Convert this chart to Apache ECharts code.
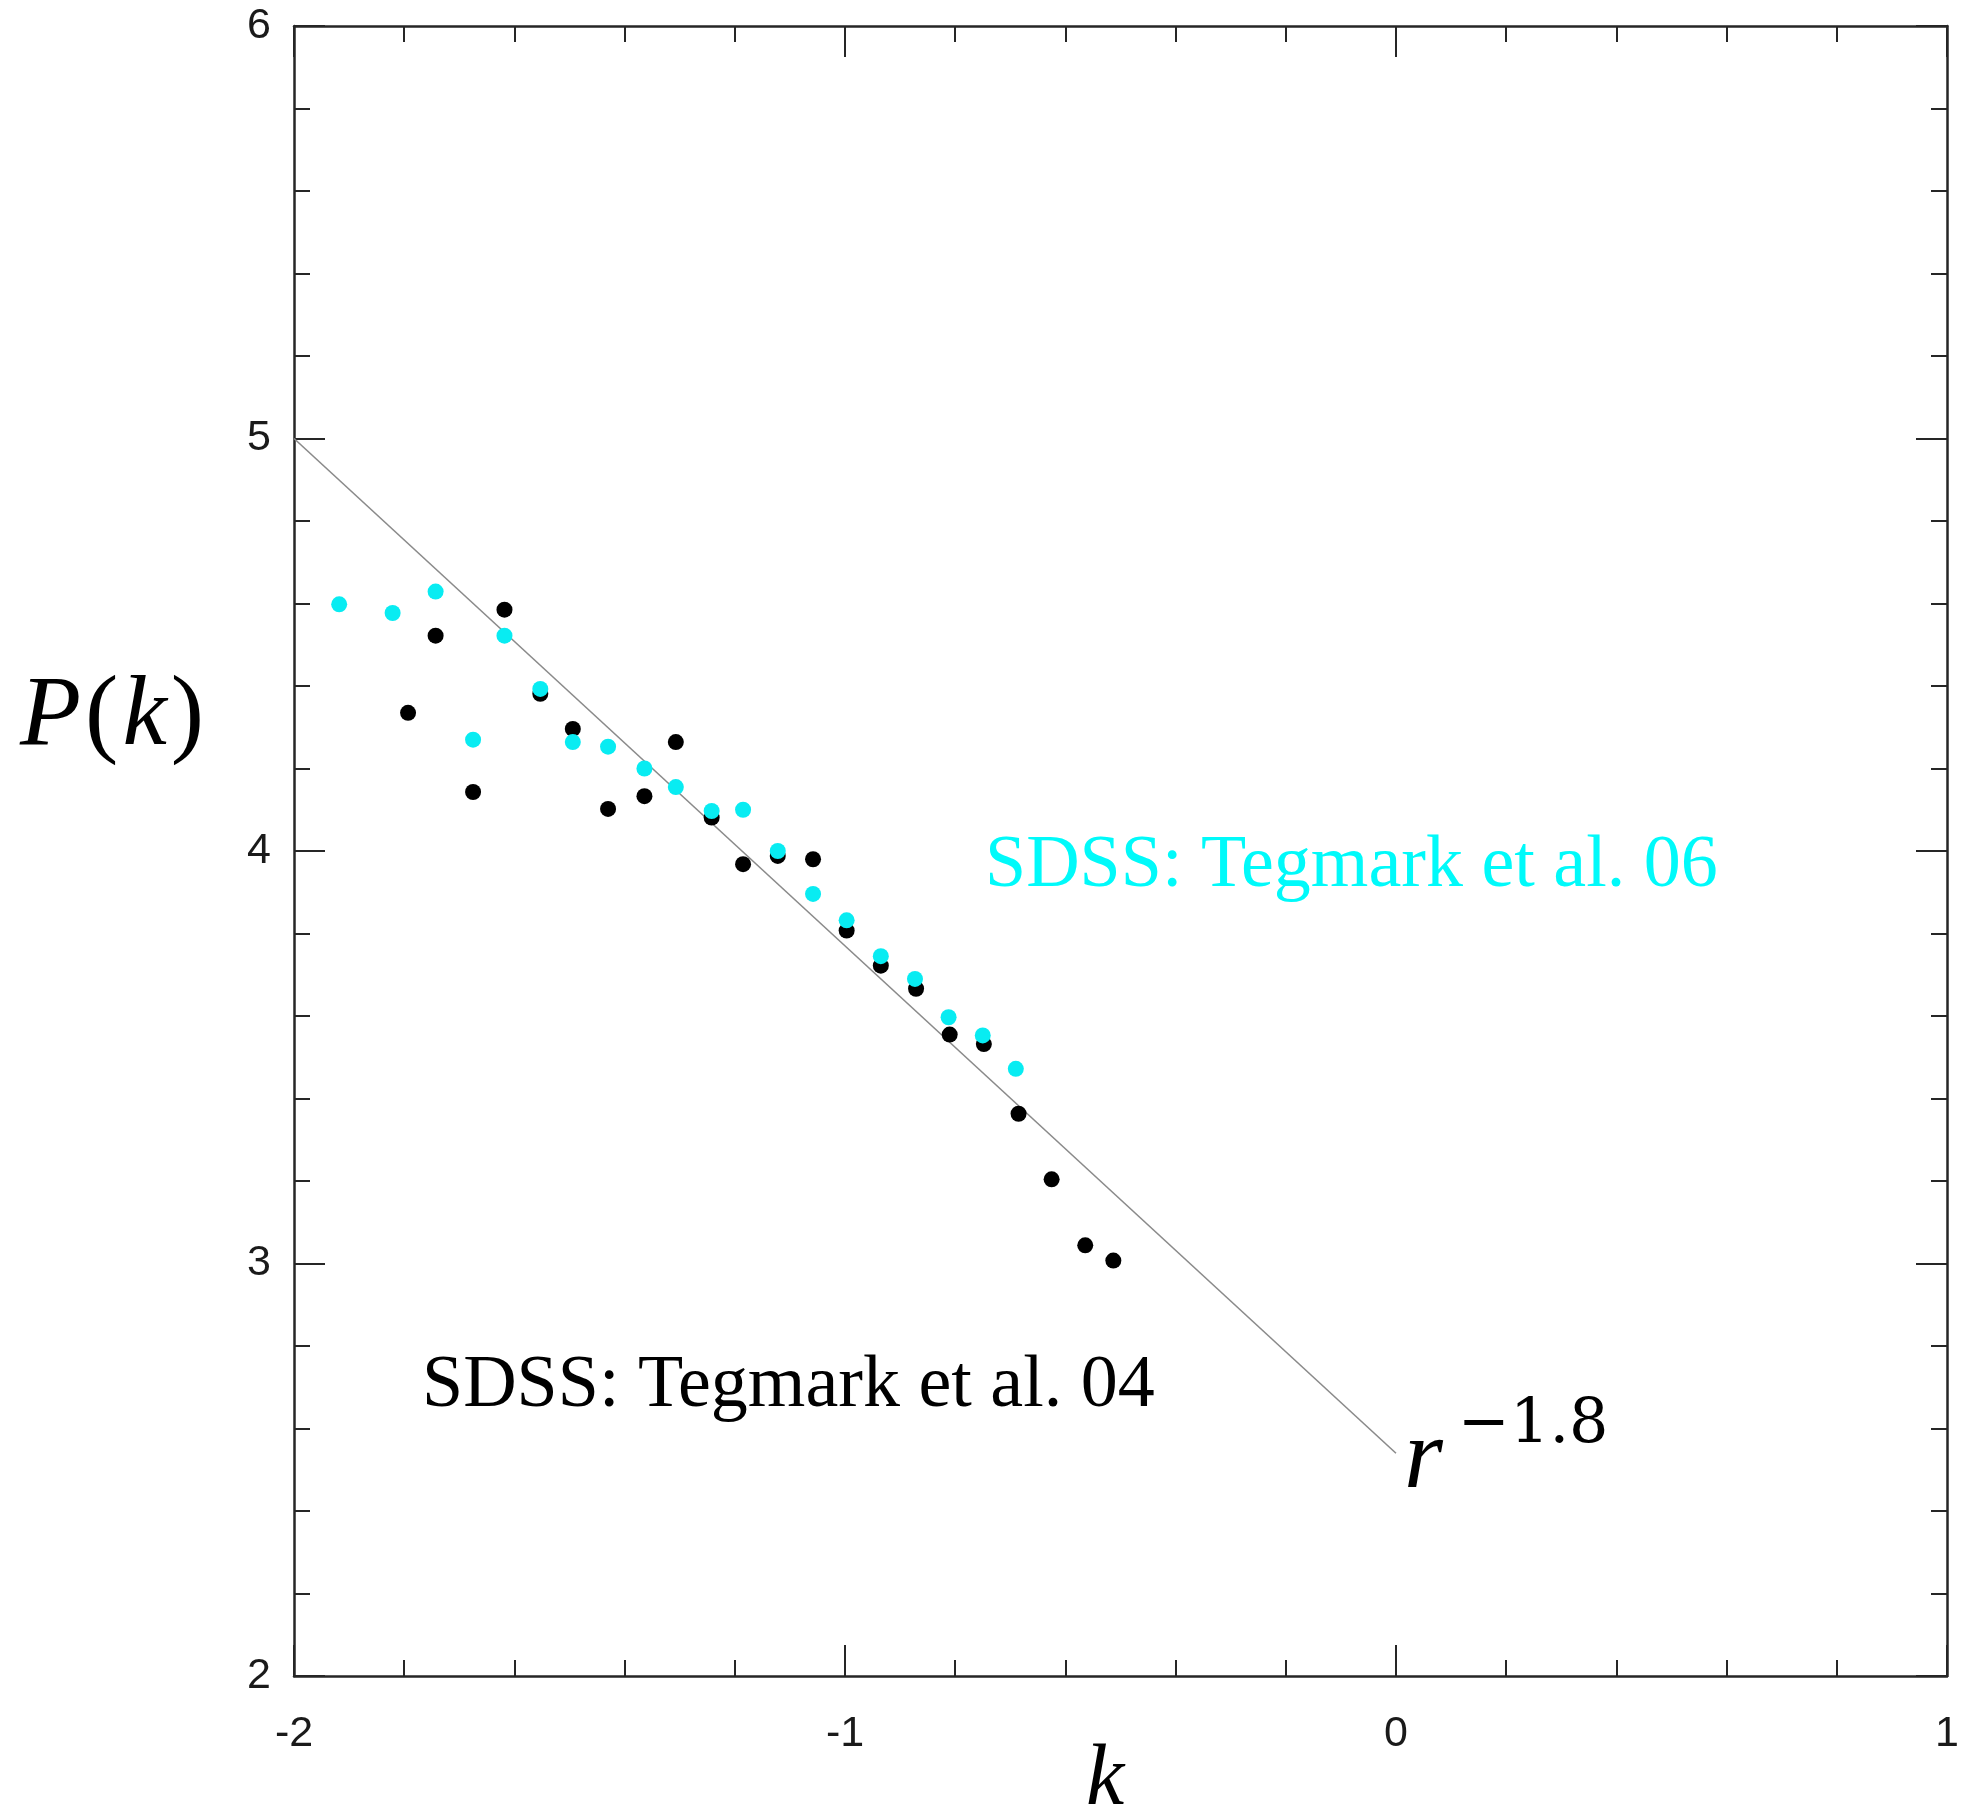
<!DOCTYPE html>
<html>
<head>
<meta charset="utf-8">
<script src="https://cdn.jsdelivr.net/npm/echarts@6/dist/echarts.min.js"></script>
<style>
  html, body { margin: 0; padding: 0; background: #fff; }
  #chart { width: 1962px; height: 1809px; }
</style>
</head>
<body>
<div id="chart"></div>
<script>
// SDSS: Tegmark et al. 04 (black points)
const k04 = [-1.793, -1.743, -1.675, -1.618, -1.553, -1.494, -1.430, -1.364, -1.307, -1.242, -1.185,
  -1.122, -1.058, -0.997, -0.935, -0.871, -0.810, -0.748, -0.685, -0.625, -0.564, -0.513];
const p04 = [4.335, 4.522, 4.143, 4.585, 4.381, 4.296, 4.102, 4.133, 4.264, 4.081, 3.968,
  3.988, 3.980, 3.807, 3.722, 3.666, 3.555, 3.532, 3.363, 3.204, 3.044, 3.007];

// SDSS: Tegmark et al. 06 (cyan points)
const k06 = [-1.918, -1.821, -1.743, -1.675, -1.618, -1.553, -1.494, -1.430, -1.364, -1.307,
  -1.242, -1.185, -1.122, -1.058, -0.997, -0.935, -0.873, -0.812, -0.750, -0.690];
const p06 = [4.598, 4.577, 4.629, 4.270, 4.522, 4.393, 4.264, 4.253, 4.200, 4.155,
  4.097, 4.100, 4.000, 3.896, 3.832, 3.745, 3.690, 3.597, 3.553, 3.472];

// r^-1.8 power law line
const fitK = [-2, 0];
const fitP = [5.0, 2.54];

// axis ticks
const xTicks = [-2, -1, 0, 1];
const yTicks = [2, 3, 4, 5, 6];

const INK = '#262626';
const CYAN_DOT = '#08ecf2';
const CYAN_TEXT = '#00fafa';
const SERIF = '"Liberation Serif", "DejaVu Serif", serif';
const SANS = '"Liberation Sans", Arial, sans-serif';

const zip = (a, b) => a.map((v, i) => [v, b[i]]);

// 边框轴，刻度朝内
function frameAxis(ticks, extra) {
  return Object.assign({
    type: 'value',
    min: ticks[0],
    max: ticks[ticks.length - 1],
    interval: ticks[1] - ticks[0],
    axisLine: { show: true, onZero: false, lineStyle: { color: INK, width: 2.5 } },
    axisTick: { show: true, inside: true, length: 31, lineStyle: { color: INK, width: 2 } },
    minorTick: { show: true, splitNumber: 5, length: 16, lineStyle: { color: INK, width: 2 } },
    splitLine: { show: false },
    minorSplitLine: { show: false },
    axisLabel: { show: false }
  }, extra);
}

const tickLabel = {
  show: true,
  color: '#1a1a1a',
  fontFamily: SANS,
  fontSize: 43
};

const chart = echarts.init(document.getElementById('chart'));

const option = {
  animation: false,
  backgroundColor: '#fff',
  grid: { left: 294, top: 26, width: 1653, height: 1650 },
  xAxis: [
    frameAxis(xTicks, { position: 'bottom', axisLabel: Object.assign({}, tickLabel, { margin: 37 }) }),
    frameAxis(xTicks, { position: 'top' })
  ],
  yAxis: [
    frameAxis(yTicks, { position: 'left', axisLabel: Object.assign({}, tickLabel, { margin: 23 }) }),
    frameAxis(yTicks, { position: 'right' })
  ],
  series: [
    {
      name: 'r^-1.8',
      type: 'line',
      data: zip(fitK, fitP),
      showSymbol: false,
      lineStyle: { color: '#8a8a8a', width: 1.6 },
      z: 1
    },
    {
      name: 'SDSS: Tegmark et al. 04',
      type: 'scatter',
      data: zip(k04, p04),
      symbolSize: 16,
      itemStyle: { color: '#000', opacity: 1 },
      z: 2
    },
    {
      name: 'SDSS: Tegmark et al. 06',
      type: 'scatter',
      data: zip(k06, p06),
      symbolSize: 16,
      itemStyle: { color: CYAN_DOT, opacity: 1 },
      z: 3
    }
  ],
  graphic: [
    {
      type: 'text', left: 985, top: 830,
      style: { text: 'SDSS: Tegmark et al. 06', fill: CYAN_TEXT, font: '74px ' + SERIF }
    },
    {
      type: 'text', left: 422, top: 1350,
      style: { text: 'SDSS: Tegmark et al. 04', fill: '#000', font: '74px ' + SERIF }
    },
    {
      type: 'text', left: 1404, top: 1411,
      style: { text: 'r', fill: '#000', font: 'italic 100px ' + SERIF }
    },
    {
      type: 'text', left: 1458, top: 1395,
      style: { text: '\u22121.8', fill: '#000', font: '62px "DejaVu Serif", serif' }
    },
    {
      type: 'text', left: 20, top: 668,
      style: {
        text: '{i|P}{n|(}{i|k}{n|)}',
        rich: {
          i: { font: 'italic 100px ' + SERIF, fill: '#000' },
          n: { font: '100px ' + SERIF, fill: '#000', padding: [0, 4] }
        }
      }
    },
    {
      type: 'text', left: 1086, top: 1738,
      style: { text: 'k', fill: '#000', font: 'italic 86px ' + SERIF }
    }
  ]
};

chart.setOption(option);
</script>
</body>
</html>
